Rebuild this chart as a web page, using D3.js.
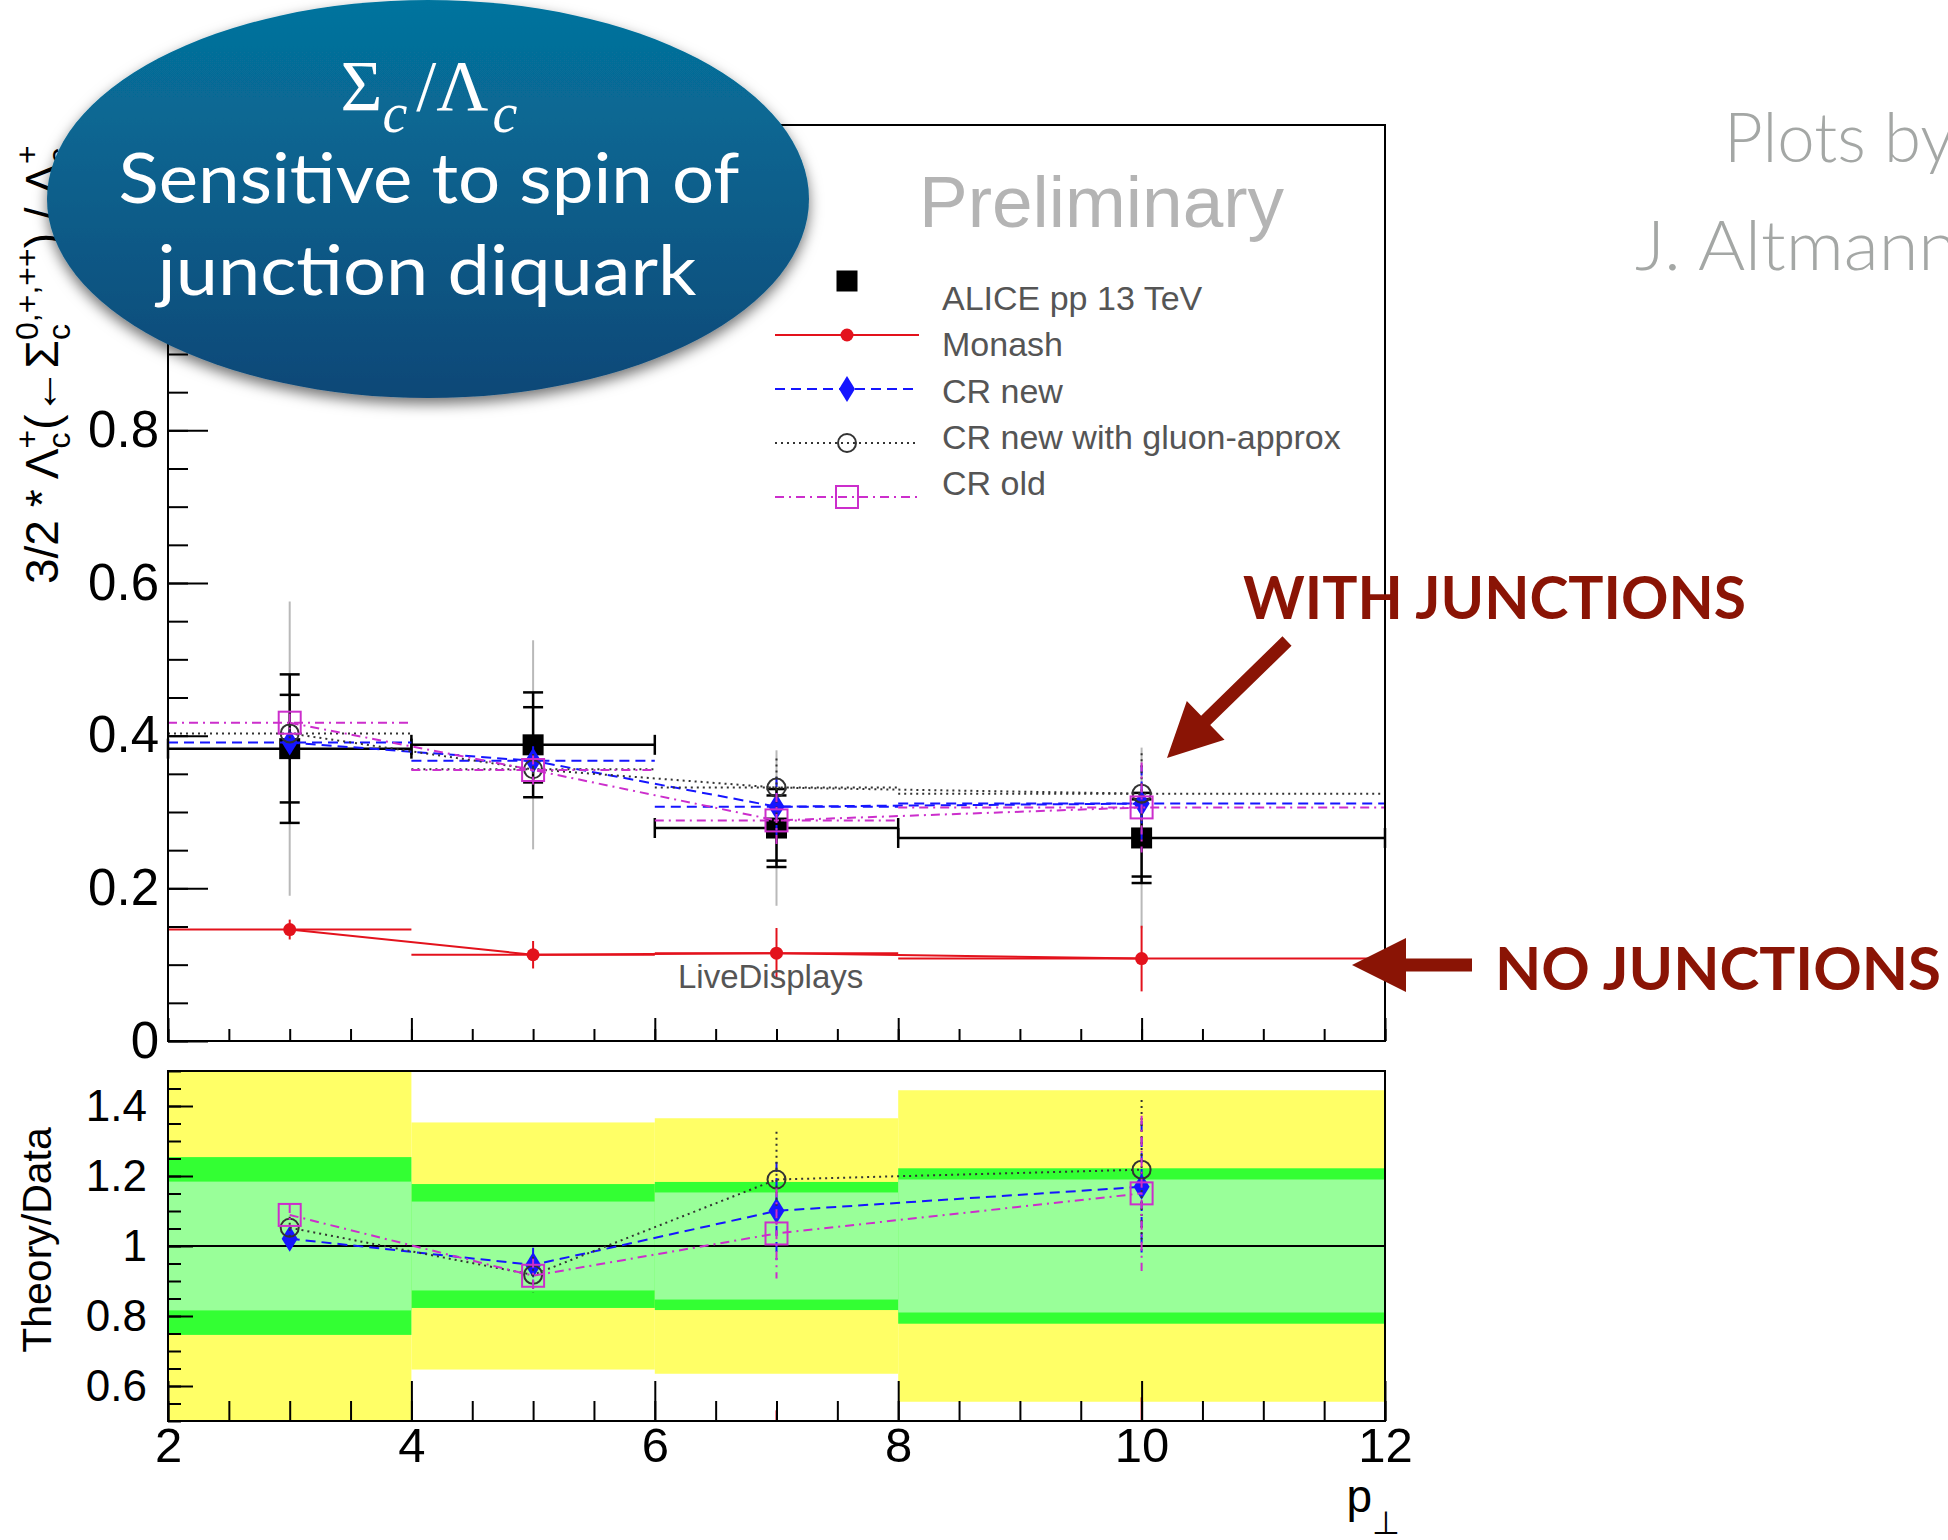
<!DOCTYPE html>
<html>
<head>
<meta charset="utf-8">
<script src="https://cdn.jsdelivr.net/npm/d3@7"></script>
<style>
  body { margin: 0; background: #fff; }
  svg { display: block; font-family: "Liberation Sans", Arial, Helvetica, sans-serif; }
</style>
</head>
<body>
<div id="chart"></div>
<script>
// ---- data ----
const binLo  = [2, 4, 6, 8];
const binHi  = [4, 6, 8, 12];
const binCtr = [3, 5, 7, 10];

// ALICE pp 13 TeV
const aliceVal     = [0.383, 0.388, 0.279, 0.266];
const aliceStatRel = [0.184, 0.127, 0.153, 0.190];
const aliceTotRel  = [0.254, 0.177, 0.183, 0.222];
const aliceWideRel = [0.503, 0.353, 0.365, 0.445];

// PYTHIA tunes
const monashVal  = [0.146, 0.113, 0.115, 0.108];
const monashErr  = [0.013, 0.018, 0.033, 0.043];
const crNewVal   = [0.391, 0.367, 0.307, 0.311];
const crNewErr   = [0.012, 0.019, 0.039, 0.050];
const crGluonVal = [0.403, 0.356, 0.332, 0.324];
const crGluonErr = [0.012, 0.020, 0.038, 0.053];
const crOldVal   = [0.417, 0.355, 0.289, 0.306];
const crOldErr   = [0.012, 0.019, 0.036, 0.059];

// labels 1 and 1.2 sit under the bubble, only their ticks show
const topTicks = [0, 0.2, 0.4, 0.6, 0.8];
const topMajor = [0, 0.2, 0.4, 0.6, 0.8, 1, 1.2];
const ratioTicks = [0.6, 0.8, 1, 1.2, 1.4];
const xTicks = [2, 4, 6, 8, 10, 12];

const W = 1948, H = 1540;
const svg = d3.select("#chart").append("svg").attr("width", W).attr("height", H);
const defs = svg.append("defs");

const x = d3.scaleLinear().domain([2, 12]).range([168, 1385]);
const yTop = d3.scaleLinear().domain([0, 1.2]).range([1041, 125]);
const yRat = d3.scaleLinear().domain([0.5, 1.5]).range([1421, 1071]);

const series = [
  {name: "Monash", val: monashVal, err: monashErr, color: "#e3121c", dash: null, marker: "circle"},
  {name: "CR new", val: crNewVal, err: crNewErr, color: "#1515ff", dash: "10,6", marker: "diamond"},
  {name: "CR new with gluon-approx", val: crGluonVal, err: crGluonErr, color: "#333333", dash: "2,4", marker: "ocircle"},
  {name: "CR old", val: crOldVal, err: crOldErr, color: "#cc2ecc", dash: "9,5,2,5", marker: "osquare"}
];

const drawMarker = (g, cx, cy, type, color) => {
  if (type === "circle") {
    g.append("circle").attr("cx", cx).attr("cy", cy).attr("r", 6.5).attr("fill", color);
  } else if (type === "diamond") {
    g.append("path").attr("d", `M${cx},${cy-13}L${cx+8},${cy}L${cx},${cy+13}L${cx-8},${cy}Z`).attr("fill", color);
  } else if (type === "ocircle") {
    g.append("circle").attr("cx", cx).attr("cy", cy).attr("r", 9).attr("fill", "none")
      .attr("stroke", color).attr("stroke-width", 2);
  } else if (type === "osquare") {
    g.append("rect").attr("x", cx-11).attr("y", cy-11).attr("width", 22).attr("height", 22)
      .attr("fill", "none").attr("stroke", color).attr("stroke-width", 2);
  } else if (type === "square") {
    g.append("rect").attr("x", cx-10.5).attr("y", cy-10.5).attr("width", 21).attr("height", 21).attr("fill", color);
  }
};

// ================= top panel =================
const topG = svg.append("g");

// wide grey error of data
topG.selectAll(".wide").data(binCtr).enter().append("line")
  .attr("x1", d => x(d)).attr("x2", d => x(d))
  .attr("y1", (d, i) => yTop(aliceVal[i] * (1 + aliceWideRel[i])))
  .attr("y2", (d, i) => yTop(aliceVal[i] * (1 - aliceWideRel[i])))
  .attr("stroke", "#b9b9b9").attr("stroke-width", 2);

// data points
binCtr.forEach((c, i) => {
  const v = aliceVal[i], yv = yTop(v);
  const g = topG.append("g").attr("stroke", "#000").attr("stroke-width", 2.5);
  g.append("line").attr("x1", x(binLo[i])).attr("x2", x(binHi[i])).attr("y1", yv).attr("y2", yv);
  [binLo[i], binHi[i]].forEach(e => g.append("line").attr("x1", x(e)).attr("x2", x(e)).attr("y1", yv-10).attr("y2", yv+10));
  const tot = v * aliceTotRel[i], stat = v * aliceStatRel[i];
  g.append("line").attr("x1", x(c)).attr("x2", x(c)).attr("y1", yTop(v+tot)).attr("y2", yTop(v-tot));
  [v+tot, v+stat, v-stat, v-tot].forEach(e =>
    g.append("line").attr("x1", x(c)-10).attr("x2", x(c)+10).attr("y1", yTop(e)).attr("y2", yTop(e)));
  drawMarker(topG, x(c), yv, "square", "#000");
});

// models
series.forEach(s => {
  const g = topG.append("g").attr("stroke", s.color).attr("stroke-width", 2).attr("fill", "none");
  s.val.forEach((v, i) => {
    g.append("line").attr("x1", x(binLo[i])).attr("x2", x(binHi[i])).attr("y1", yTop(v)).attr("y2", yTop(v))
      .attr("stroke-dasharray", s.dash);
    g.append("line").attr("x1", x(binCtr[i])).attr("x2", x(binCtr[i]))
      .attr("y1", yTop(v + s.err[i])).attr("y2", yTop(v - s.err[i])).attr("stroke-dasharray", s.dash);
  });
  g.append("path").attr("d", d3.line().x((v, i) => x(binCtr[i])).y(v => yTop(v))(s.val))
    .attr("stroke-dasharray", s.dash);
  s.val.forEach((v, i) => drawMarker(topG, x(binCtr[i]), yTop(v), s.marker, s.color));
});

// axes of top panel
const styleAxis = g => { g.select(".domain").remove(); g.selectAll(".tick line").attr("stroke", "#000").attr("stroke-width", 2); };
topG.append("g").attr("transform", `translate(${x(2)},0)`)
  .call(d3.axisLeft(yTop).tickValues(d3.range(0, 1.2001, 0.05)).tickSize(-20).tickFormat(""))
  .call(styleAxis);
topG.append("g").attr("transform", `translate(${x(2)},0)`)
  .call(d3.axisLeft(yTop).tickValues(topMajor).tickSize(-40).tickFormat(""))
  .call(styleAxis);
topG.append("g").attr("transform", `translate(${x(2)},0)`)
  .call(d3.axisLeft(yTop).tickValues(topTicks).tickSize(0).tickPadding(9).tickFormat(d3.format("~g")))
  .call(styleAxis)
  .selectAll("text").attr("font-size", 51).attr("fill", "#000");
topG.append("g").attr("transform", `translate(0,${yTop(0)})`)
  .call(d3.axisBottom(x).tickValues(d3.range(2, 12.01, 0.5)).tickSize(-12).tickFormat(""))
  .call(styleAxis);
topG.append("g").attr("transform", `translate(0,${yTop(0)})`)
  .call(d3.axisBottom(x).tickValues(xTicks).tickSize(-23).tickFormat(""))
  .call(styleAxis);
topG.append("rect").attr("x", x(2)).attr("y", yTop(1.2)).attr("width", x(12)-x(2)).attr("height", yTop(0)-yTop(1.2))
  .attr("fill", "none").attr("stroke", "#000").attr("stroke-width", 2);

// y title of top panel
const yt = svg.append("text").attr("transform", "translate(58,584) rotate(-90)")
  .attr("font-size", 46).attr("fill", "#000");
yt.append("tspan").text("3/2 * \u039B");
yt.append("tspan").attr("font-size", 32).attr("dy", 12).text("c");
yt.append("tspan").attr("font-size", 32).attr("dx", -16).attr("dy", -32).text("+");
yt.append("tspan").attr("dy", 20).text("(\u2190\u03A3");
yt.append("tspan").attr("font-size", 32).attr("dy", 12).text("c");
yt.append("tspan").attr("font-size", 32).attr("dx", -16).attr("dy", -32).text("0,+,++");
yt.append("tspan").attr("dy", 20).text(") / \u039B");
yt.append("tspan").attr("font-size", 32).attr("dy", 12).text("c");
yt.append("tspan").attr("font-size", 32).attr("dx", -16).attr("dy", -32).text("+");

// legend
const legend = svg.append("g");
const legendRows = [{name: "ALICE pp 13 TeV", marker: "square", color: "#000", line: false}]
  .concat(series.map(s => ({name: s.name, marker: s.marker, color: s.color, dash: s.dash, line: true})));
legendRows.forEach((r, i) => {
  const sy = 281 + i * 54;
  if (r.line) {
    legend.append("line").attr("x1", 775).attr("x2", 919).attr("y1", sy).attr("y2", sy)
      .attr("stroke", r.color).attr("stroke-width", 2).attr("stroke-dasharray", r.dash);
  }
  drawMarker(legend, 847, sy, r.marker, r.color);
  legend.append("text").attr("x", 942).attr("y", 310 + i * 46.3)
    .attr("font-size", 34).attr("fill", "#555").text(r.name);
});

svg.append("text").attr("x", 919).attr("y", 227).attr("font-size", 73).attr("fill", "#b4b4b4").text("Preliminary");
svg.append("text").attr("x", 678).attr("y", 988).attr("font-size", 33).attr("fill", "#555").text("LiveDisplays");

// ================= ratio panel =================
defs.append("clipPath").attr("id", "ratioClip").append("rect")
  .attr("x", x(2)).attr("y", yRat(1.5)).attr("width", x(12)-x(2)).attr("height", yRat(0.5)-yRat(1.5));
const rat = svg.append("g");
const ratIn = rat.append("g").attr("clip-path", "url(#ratioClip)");

const bands = [
  {rel: aliceWideRel, color: "#ffff66"},
  {rel: aliceTotRel, color: "#33ff33"},
  {rel: aliceStatRel, color: "#99ff99"}
];
bands.forEach(b => {
  ratIn.selectAll(null).data(binLo).enter().append("rect")
    .attr("x", (d, i) => x(binLo[i])).attr("width", (d, i) => x(binHi[i]) - x(binLo[i]))
    .attr("y", (d, i) => yRat(1 + b.rel[i])).attr("height", (d, i) => yRat(1 - b.rel[i]) - yRat(1 + b.rel[i]))
    .attr("fill", b.color);
});
ratIn.append("line").attr("x1", x(2)).attr("x2", x(12)).attr("y1", yRat(1)).attr("y2", yRat(1))
  .attr("stroke", "#000").attr("stroke-width", 1.8);

series.forEach(s => {
  const r = s.val.map((v, i) => v / aliceVal[i]);
  const re = s.err.map((e, i) => e / aliceVal[i]);
  const g = ratIn.append("g").attr("stroke", s.color).attr("stroke-width", 2).attr("fill", "none");
  g.append("path").attr("d", d3.line().x((v, i) => x(binCtr[i])).y(v => yRat(v))(r)).attr("stroke-dasharray", s.dash);
  r.forEach((v, i) => {
    g.append("line").attr("x1", x(binCtr[i])).attr("x2", x(binCtr[i]))
      .attr("y1", yRat(v + re[i])).attr("y2", yRat(v - re[i])).attr("stroke-dasharray", s.dash);
  });
  r.forEach((v, i) => drawMarker(ratIn, x(binCtr[i]), yRat(v), s.marker, s.color));
});

rat.append("g").attr("transform", `translate(${x(2)},0)`)
  .call(d3.axisLeft(yRat).tickValues(d3.range(0.5, 1.5001, 0.05)).tickSize(-13).tickFormat(""))
  .call(styleAxis);
rat.append("g").attr("transform", `translate(${x(2)},0)`)
  .call(d3.axisLeft(yRat).tickValues(ratioTicks).tickSize(-25).tickPadding(21).tickFormat(d3.format("~g")))
  .call(styleAxis)
  .selectAll("text").attr("font-size", 44).attr("fill", "#000");
rat.append("g").attr("transform", `translate(0,${yRat(0.5)})`)
  .call(d3.axisBottom(x).tickValues(d3.range(2, 12.01, 0.5)).tickSize(-20).tickFormat(""))
  .call(styleAxis);
rat.append("g").attr("transform", `translate(0,${yRat(0.5)})`)
  .call(d3.axisBottom(x).tickValues(xTicks).tickSize(-40).tickPadding(6).tickFormat(d3.format("d")))
  .call(styleAxis)
  .selectAll("text").attr("font-size", 49).attr("fill", "#000");
rat.append("rect").attr("x", x(2)).attr("y", yRat(1.5)).attr("width", x(12)-x(2)).attr("height", yRat(0.5)-yRat(1.5))
  .attr("fill", "none").attr("stroke", "#000").attr("stroke-width", 2);

svg.append("text").attr("transform", "translate(51,1240) rotate(-90)").attr("text-anchor", "middle")
  .attr("font-size", 41).attr("fill", "#000").text("Theory/Data");

const xt = svg.append("text").attr("x", 1400).attr("y", 1512).attr("text-anchor", "end").attr("font-size", 46);
xt.append("tspan").text("p");
xt.append("tspan").attr("font-size", 32).attr("dy", 22).text("\u22A5");

// ================= slide overlays =================
const grad = defs.append("linearGradient").attr("id", "ellGrad").attr("x1", 0).attr("y1", 0).attr("x2", 0).attr("y2", 1);
grad.append("stop").attr("offset", "0%").attr("stop-color", "#05749e");
grad.append("stop").attr("offset", "100%").attr("stop-color", "#0d4877");
const shadow = defs.append("filter").attr("id", "shadow").attr("x", "-20%").attr("y", "-20%").attr("width", "140%").attr("height", "140%");
shadow.append("feDropShadow").attr("dx", 0).attr("dy", 6).attr("stdDeviation", 7)
  .attr("flood-color", "#000").attr("flood-opacity", 0.55);

svg.append("ellipse").attr("cx", 428).attr("cy", 199).attr("rx", 381).attr("ry", 199)
  .attr("fill", "url(#ellGrad)").attr("filter", "url(#shadow)");

const ttl = svg.append("text").attr("x", 429).attr("y", 110).attr("text-anchor", "middle")
  .attr("font-family", "'Liberation Serif', 'DejaVu Serif', serif").attr("font-size", 72).attr("fill", "#fff");
ttl.append("tspan").text("\u03A3");
ttl.append("tspan").attr("font-style", "italic").attr("font-size", 56).attr("dy", 22).text("c");
ttl.append("tspan").attr("dy", -22).attr("dx", 9).text("/\u039B");
ttl.append("tspan").attr("font-style", "italic").attr("font-size", 56).attr("dy", 22).attr("dx", 4).text("c");

svg.append("text").attr("x", 429).attr("y", 203).attr("text-anchor", "middle")
  .attr("font-family", "Lato, 'Open Sans', sans-serif").attr("font-size", 70).attr("fill", "#fff")
  .attr("textLength", 621).attr("lengthAdjust", "spacingAndGlyphs").text("Sensitive to spin of");
svg.append("text").attr("x", 427).attr("y", 295).attr("text-anchor", "middle")
  .attr("font-family", "Lato, 'Open Sans', sans-serif").attr("font-size", 70).attr("fill", "#fff")
  .attr("textLength", 539).attr("lengthAdjust", "spacingAndGlyphs").text("junction diquark");

svg.append("text").attr("x", 1724).attr("y", 162).attr("font-family", "Lato, 'Open Sans', sans-serif")
  .attr("font-weight", 300).attr("font-size", 69).attr("fill", "#a4a7a5")
  .attr("textLength", 230).attr("lengthAdjust", "spacingAndGlyphs").text("Plots by");
svg.append("text").attr("x", 1635).attr("y", 270).attr("font-family", "Lato, 'Open Sans', sans-serif")
  .attr("font-weight", 300).attr("font-size", 69).attr("fill", "#a4a7a5")
  .attr("textLength", 323).attr("lengthAdjust", "spacingAndGlyphs").text("J. Altmann");

// annotation arrows
const arrowColor = "#8a1405";
const arrow = (tx, ty, fx, fy) => {
  const len = Math.hypot(fx - tx, fy - ty), ux = (fx - tx) / len, uy = (fy - ty) / len;
  const px = -uy, py = ux, hl = 54, hw = 27, sw = 6.5;
  const pts = [
    [tx, ty],
    [tx + ux*hl + px*hw, ty + uy*hl + py*hw],
    [tx + ux*hl + px*sw, ty + uy*hl + py*sw],
    [fx + px*sw, fy + py*sw],
    [fx - px*sw, fy - py*sw],
    [tx + ux*hl - px*sw, ty + uy*hl - py*sw],
    [tx + ux*hl - px*hw, ty + uy*hl - py*hw]
  ];
  svg.append("polygon").attr("points", pts.map(p => p.join(",")).join(" ")).attr("fill", arrowColor);
};
arrow(1167, 758, 1287, 641);
arrow(1352, 965, 1472, 965);

svg.append("text").attr("x", 1243).attr("y", 619).attr("font-family", "Lato, 'Open Sans', sans-serif")
  .attr("font-weight", 700).attr("font-size", 60).attr("fill", arrowColor)
  .attr("textLength", 503).attr("lengthAdjust", "spacingAndGlyphs").text("WITH JUNCTIONS");
svg.append("text").attr("x", 1495).attr("y", 990).attr("font-family", "Lato, 'Open Sans', sans-serif")
  .attr("font-weight", 700).attr("font-size", 60).attr("fill", arrowColor)
  .attr("textLength", 446).attr("lengthAdjust", "spacingAndGlyphs").text("NO JUNCTIONS");
</script>
</body>
</html>
